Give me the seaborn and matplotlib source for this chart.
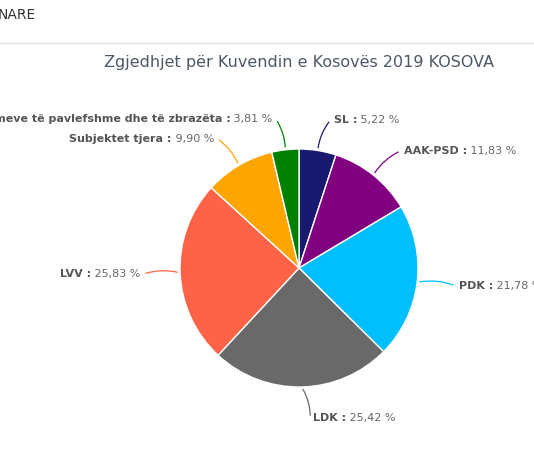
import numpy as np
import seaborn as sns
import matplotlib.pyplot as plt

parties = ["SL", "AAK-PSD", "PDK", "LDK", "LVV", "Subjektet tjera",
           "Numri i fletëvotimeve të pavlefshme dhe të zbrazëta"]
shares = [5.22, 11.83, 21.78, 25.42, 25.83, 9.90, 3.81]
party_colors = ["#191970", "#800080", "#00bfff", "#696969", "#ff6347", "#ffa500", "#008000"]

title = "Zgjedhjet për Kuvendin e Kosovës 2019 KOSOVA"
header = "NARE"

sns.set_theme(style="white")
plt.rcParams['font.family'] = ['DejaVu Sans']

W, H = 534, 449
fig = plt.figure(figsize=(W / 100, H / 100), dpi=100)
ax = fig.add_axes([0, 0, 1, 1])

# pie geometry in pixels (y measured from bottom)
cx, cy, r = 299, H - 268, 119

palette = sns.color_palette(party_colors)
wedges, _ = ax.pie(shares, colors=palette, startangle=90, counterclock=False,
                   center=(cx, cy), radius=r, frame=True,
                   wedgeprops=dict(edgecolor="white", linewidth=1))
ax.set_xlim(0, W)
ax.set_ylim(0, H)
ax.set_aspect('equal')
ax.axis('off')

renderer = fig.canvas.get_renderer()
for w, name, val, col in zip(wedges, parties, shares, party_colors):
    ang = np.deg2rad((w.theta1 + w.theta2) / 2)
    ex, ey = cx + r * np.cos(ang), cy + r * np.sin(ang)
    lx, ly = cx + (r + 31) * np.cos(ang), cy + (r + 31) * np.sin(ang)
    right = np.cos(ang) >= 0
    tx = lx + 11 if right else lx - 9
    ax.annotate("", xy=(ex, ey), xytext=(tx - (3 if right else -3), ly),
                arrowprops=dict(arrowstyle="-", color=col, lw=0.9,
                                connectionstyle="arc3,rad=0.15" if right else "arc3,rad=-0.15"))
    bold = f"{name} :"
    value = " " + f"{val:.2f}".replace(".", ",") + " %"
    if right:
        t1 = ax.text(tx, ly, bold, ha="left", va="center", fontsize=8,
                     fontweight="bold", color="#555555")
        bw = t1.get_window_extent(renderer).width
        ax.text(tx + bw, ly, value, ha="left", va="center", fontsize=8, color="#666666")
    else:
        t2 = ax.text(tx, ly, value, ha="right", va="center", fontsize=8, color="#666666")
        vw = t2.get_window_extent(renderer).width
        ax.text(tx - vw, ly, bold, ha="right", va="center", fontsize=8,
                fontweight="bold", color="#555555")

ax.text(299, H - 63, title, ha="center", va="center", fontsize=11.5, color="#4d5866")
ax.text(-2, H - 15, header, ha="left", va="center", fontsize=10, color="#333333")
ax.plot([0, W], [H - 43, H - 43], color="#dddddd", lw=1)

fig.savefig("out.png", dpi=100)
